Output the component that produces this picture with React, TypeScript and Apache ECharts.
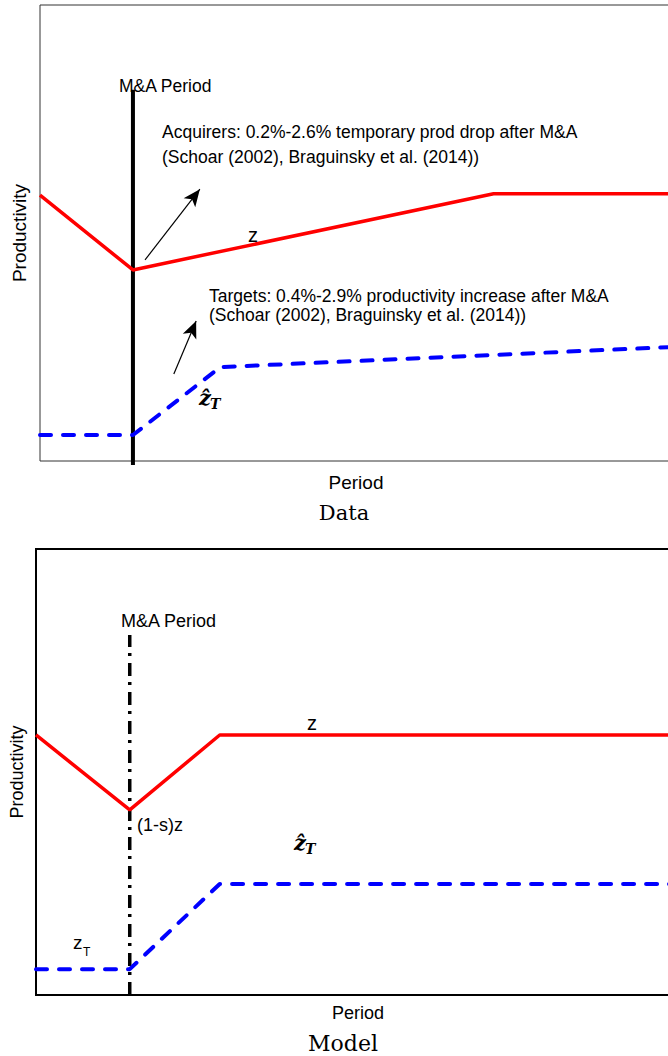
import React, { useEffect, useRef } from "react";
import * as echarts from "echarts";

// ---- Data panel (top) ----
const dataAcqPeriods = [0, 1, 4.88, 6.8];
const dataAcqValues = [58.3, 41.9, 58.6, 58.6];
const dataTgtPeriods = [0, 1, 1.94, 6.8];
const dataTgtValues = [5.7, 5.7, 20.6, 25.0];
const dataMaLineY = [-0.9, 81.4];
const arrowAcquirers = [[1.13, 44.1], [1.72, 59.6]];
const arrowTargets = [[1.44, 19.1], [1.68, 30.7]];

// ---- Model panel (bottom) ----
const modelAcqPeriods = [0, 1, 1.96, 6.87];
const modelAcqValues = [58.3, 41.5, 58.3, 58.3];
const modelTgtPeriods = [0, 1, 1.96, 6.87];
const modelTgtValues = [5.8, 5.8, 24.9, 24.9];
const modelMaLineY = [0, 80.7];

const maPeriod = 1;

const zip = (xs: number[], ys: number[]) => xs.map((x, i) => [x, ys[i]]);

const sans = "'Liberation Sans', Arial, Helvetica, sans-serif";
const serif = "'DejaVu Serif', serif";

function txt(text: string, x: number, y: number, font: string, align = "left", extra: any = {}) {
  return {
    type: "text",
    x,
    y,
    z: 100,
    silent: true,
    ...extra,
    style: { text, font, fill: "#000", textAlign: align, textVerticalAlign: "middle" },
  };
}

export default function App() {
  const ref = useRef<HTMLDivElement>(null);
  useEffect(() => {
    if (!ref.current) return;
    const chart = echarts.init(ref.current, undefined, { renderer: "svg" });
    const hiddenAxis = {
      axisLine: { show: false },
      axisTick: { show: false },
      axisLabel: { show: false },
      splitLine: { show: false },
    };
    const option: any = {
      animation: false,
      grid: [
        { left: 40, top: 5, width: 632, height: 456, show: true, borderColor: "#333", borderWidth: 1 },
        { left: 34, top: 549, width: 646, height: 446, show: true, borderColor: "#000", borderWidth: 2 },
      ],
      xAxis: [
        {
          type: "value", gridIndex: 0, min: 0, max: 6.8, ...hiddenAxis,
          name: "Period", nameLocation: "middle", nameGap: 12,
          nameTextStyle: { fontFamily: sans, fontSize: 19, color: "#000" },
        },
        {
          type: "value", gridIndex: 1, min: 0, max: 6.87, ...hiddenAxis,
          name: "Period", nameLocation: "middle", nameGap: 9,
          nameTextStyle: { fontFamily: sans, fontSize: 18, color: "#000" },
        },
      ],
      yAxis: [
        {
          type: "value", gridIndex: 0, min: 0, max: 100, ...hiddenAxis,
          name: "Productivity", nameLocation: "middle", nameGap: 11,
          nameTextStyle: { fontFamily: sans, fontSize: 19, color: "#000" },
        },
        {
          type: "value", gridIndex: 1, min: 0, max: 100, ...hiddenAxis,
          name: "Productivity", nameLocation: "middle", nameGap: 10,
          nameTextStyle: { fontFamily: sans, fontSize: 18, color: "#000" },
        },
      ],
      series: [
        {
          type: "line", xAxisIndex: 0, yAxisIndex: 0, clip: false, silent: true,
          data: dataMaLineY.map((y) => [maPeriod, y]), showSymbol: false, symbol: "none",
          lineStyle: { color: "#000", width: 4 }, z: 2,
        },
        {
          type: "line", xAxisIndex: 0, yAxisIndex: 0, silent: true,
          data: zip(dataAcqPeriods, dataAcqValues), showSymbol: false, symbol: "none",
          lineStyle: { color: "#ff0000", width: 3.5 }, z: 3,
          markLine: {
            silent: true, symbol: ["none", "arrow"], symbolSize: [11, 17],
            label: { show: false },
            lineStyle: { color: "#000", width: 1.2, type: "solid" },
            data: [
              [{ coord: arrowAcquirers[0] }, { coord: arrowAcquirers[1] }],
              [{ coord: arrowTargets[0] }, { coord: arrowTargets[1] }],
            ],
          },
        },
        {
          type: "line", xAxisIndex: 0, yAxisIndex: 0, silent: true,
          data: zip(dataTgtPeriods, dataTgtValues), showSymbol: false, symbol: "none",
          lineStyle: { color: "#0000ff", width: 4, type: [11, 12], cap: "round" }, z: 3,
        },
        {
          type: "line", xAxisIndex: 1, yAxisIndex: 1, clip: false, silent: true,
          data: modelMaLineY.map((y) => [maPeriod, y]), showSymbol: false, symbol: "none",
          lineStyle: { color: "#000", width: 3.5, type: [13, 7, 3, 6] }, z: 2,
        },
        {
          type: "line", xAxisIndex: 1, yAxisIndex: 1, silent: true,
          data: zip(modelAcqPeriods, modelAcqValues), showSymbol: false, symbol: "none",
          lineStyle: { color: "#ff0000", width: 3.5 }, z: 3,
        },
        {
          type: "line", xAxisIndex: 1, yAxisIndex: 1, silent: true,
          data: zip(modelTgtPeriods, modelTgtValues), showSymbol: false, symbol: "none",
          lineStyle: { color: "#0000ff", width: 4, type: [11, 12], cap: "round" }, z: 3,
        },
      ],
      graphic: [
        // Data panel annotations
        txt("M&A Period", 119, 86, `17.5px ${sans}`),
        txt("Acquirers: 0.2%-2.6% temporary prod drop after M&A", 162, 132, `17.5px ${sans}`),
        txt("(Schoar (2002), Braguinsky et al. (2014))", 162, 157, `17.5px ${sans}`),
        txt("z", 248, 235, `20px ${sans}`),
        txt("Targets: 0.4%-2.9% productivity increase after M&A", 209, 296, `17.5px ${sans}`),
        txt("(Schoar (2002), Braguinsky et al. (2014))", 209, 315, `17.5px ${sans}`),
        txt("ẑ", 199, 397, `italic bold 21px ${serif}`),
        txt("T", 210, 404, `italic bold 14px ${serif}`),
        txt("Data", 344, 513, `21px ${serif}`, "center"),
        // Model panel annotations
        txt("M&A Period", 121, 621, `18px ${sans}`),
        txt("z", 307, 723, `20px ${sans}`),
        txt("(1-s)z", 137, 825, `18px ${sans}`),
        txt("ẑ", 294, 842, `italic bold 21px ${serif}`),
        txt("T", 305, 849, `italic bold 14px ${serif}`),
        txt("z", 73, 942, `19px ${sans}`),
        txt("T", 83, 952, `12px ${sans}`),
        txt("Model", 343, 1043, `22px ${serif}`, "center"),
      ],
    };
    chart.setOption(option);
    return () => chart.dispose();
  }, []);
  return (
    <div style={{ position: "absolute", left: 0, top: 0, width: 668, height: 1056, overflow: "hidden", background: "#fff" }}>
      <div ref={ref} style={{ width: 700, height: 1056 }} />
    </div>
  );
}
